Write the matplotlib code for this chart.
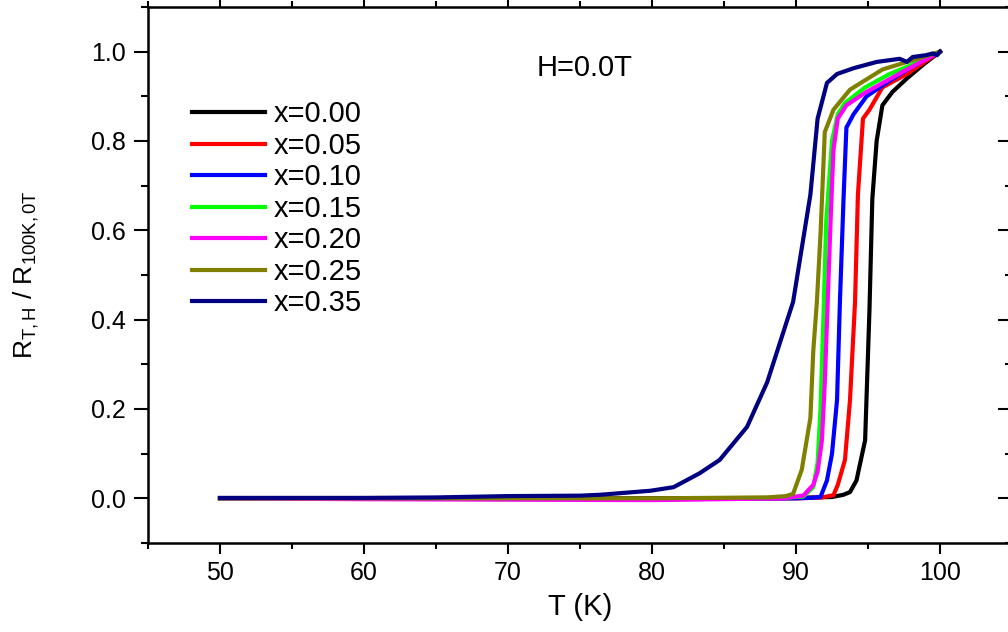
import matplotlib
matplotlib.use("Agg")
import matplotlib.pyplot as plt
from matplotlib.ticker import MultipleLocator

plt.rcParams['font.family'] = ['Liberation Sans', 'DejaVu Sans']
plt.rcParams['mathtext.fontset'] = 'custom'
plt.rcParams['mathtext.rm'] = 'Liberation Sans'
plt.rcParams['mathtext.it'] = 'Liberation Sans'

# ── Curves: T (K) and R(T,H)/R(100K,0T) ───────────────────────────────
labels = ["x=0.00", "x=0.05", "x=0.10", "x=0.15", "x=0.20", "x=0.25", "x=0.35"]
colors = ["#000000", "#ff0000", "#0000ff", "#00ff00", "#ff00ff", "#808000", "#000080"]

t_000 = [50, 60, 70, 80, 90, 92.5, 93.3, 93.75, 94.2, 94.8, 95.1, 95.3, 95.6, 96.0, 96.7, 97.7, 98.8, 100]
r_000 = [0.0, 0.0, 0.0, 0.0, 0.001, 0.003, 0.008, 0.014, 0.04, 0.13, 0.42, 0.67, 0.80, 0.88, 0.91, 0.94, 0.97, 1.0]

t_005 = [50, 60, 70, 80, 90, 91.8, 92.6, 92.9, 93.4, 93.75, 94.1, 94.3, 94.65, 95.1, 96.0, 97.7, 100]
r_005 = [0.0, 0.0, 0.0, -0.002, 0.0, 0.002, 0.007, 0.03, 0.086, 0.22, 0.44, 0.68, 0.85, 0.87, 0.92, 0.95, 1.0]

t_010 = [50, 60, 70, 80, 90, 91.0, 91.7, 92.15, 92.5, 92.85, 93.05, 93.3, 93.5, 94.0, 94.9, 96.5, 98.0, 100]
r_010 = [0.0, 0.0, 0.0, -0.002, 0.0, 0.001, 0.003, 0.04, 0.10, 0.22, 0.44, 0.67, 0.83, 0.86, 0.90, 0.935, 0.965, 1.0]

t_015 = [50, 60, 70, 80, 89, 90.5, 91.2, 91.5, 91.7, 91.9, 92.1, 92.5, 92.9, 93.4, 94.8, 96.5, 98.0, 100]
r_015 = [0.0, 0.0, -0.002, -0.002, 0.001, 0.004, 0.025, 0.08, 0.20, 0.40, 0.62, 0.80, 0.86, 0.885, 0.92, 0.95, 0.97, 1.0]

t_020 = [50, 60, 70, 80, 89, 90.5, 91.2, 91.5, 91.8, 92.0, 92.2, 92.4, 92.6, 92.9, 93.5, 94.9, 97.7, 100]
r_020 = [0.0, -0.002, -0.003, -0.004, 0.0, 0.006, 0.03, 0.06, 0.13, 0.26, 0.44, 0.62, 0.78, 0.85, 0.88, 0.91, 0.96, 1.0]

t_025 = [50, 60, 70, 80, 88, 89.3, 89.8, 90.4, 91.0, 91.2, 91.45, 91.7, 92.0, 92.6, 93.75, 96.0, 100]
r_025 = [0.0, 0.0, 0.0, 0.0, 0.002, 0.005, 0.01, 0.064, 0.18, 0.33, 0.44, 0.59, 0.82, 0.87, 0.915, 0.96, 1.0]

t_035 = [50, 60, 65, 70, 75, 76.4, 79.9, 81.5, 83.3, 84.7, 86.6, 88.0, 89.1, 89.8, 90.1, 91.0, 91.5,
         92.15, 92.85, 94.0, 95.6, 97.2, 97.7, 98.1, 99.0, 99.5, 99.8, 100]
r_035 = [0.001, 0.001, 0.002, 0.005, 0.006, 0.008, 0.017, 0.025, 0.056, 0.086, 0.16, 0.26, 0.37, 0.44,
         0.50, 0.68, 0.85, 0.93, 0.95, 0.963, 0.977, 0.984, 0.977, 0.988, 0.992, 0.996, 0.992, 1.0]

temps = [t_000, t_005, t_010, t_015, t_020, t_025, t_035]
ratios = [r_000, r_005, r_010, r_015, r_020, r_025, r_035]

fig = plt.figure(figsize=(10.08, 6.32), dpi=100)
ax = fig.add_axes([148 / 1008, 89 / 632, 864 / 1008, 536 / 632])

for t, r, c, lab in zip(temps, ratios, colors, labels):
    ax.plot(t, r, color=c, lw=3.0, label=lab, solid_joinstyle='round')

ax.set_xlim(45, 105)
ax.set_ylim(-0.1, 1.1)
ax.xaxis.set_major_locator(MultipleLocator(10))
ax.xaxis.set_minor_locator(MultipleLocator(5))
ax.yaxis.set_major_locator(MultipleLocator(0.2))
ax.yaxis.set_minor_locator(MultipleLocator(0.1))

for s in ax.spines.values():
    s.set_linewidth(1.8)

ax.tick_params(axis='x', which='major', direction='out', length=8, width=1.5,
               top=True, labelsize=18, pad=5)
ax.tick_params(axis='x', which='minor', direction='out', length=4, width=1.5, top=True)
ax.tick_params(axis='y', which='major', direction='out', length=10, width=1.5,
               labelsize=18, pad=6)
ax.tick_params(axis='y', which='minor', direction='out', length=5, width=1.5)
# right-hand ticks point inwards
ax.tick_params(axis='y', which='both', right=True)
for tk in ax.yaxis.get_major_ticks() + ax.yaxis.get_minor_ticks():
    tk.tick2line.set_marker(matplotlib.lines.TICKLEFT)

ax.set_xlabel("T (K)", fontsize=21, labelpad=6)
ax.set_ylabel(r"R$_{\rm T,H}$ / R$_{\rm 100K,0T}$", fontsize=19, labelpad=36)

ax.text(72.0, 0.963, "H=0.0T", fontsize=21, va='center', ha='left')

ax.legend(loc='upper left', bbox_to_anchor=(0.051, 0.826), frameon=False,
          fontsize=21, handlelength=2.5, handletextpad=0.3,
          labelspacing=0.12, borderpad=0, borderaxespad=0)

fig.savefig("out.png", dpi=100)
